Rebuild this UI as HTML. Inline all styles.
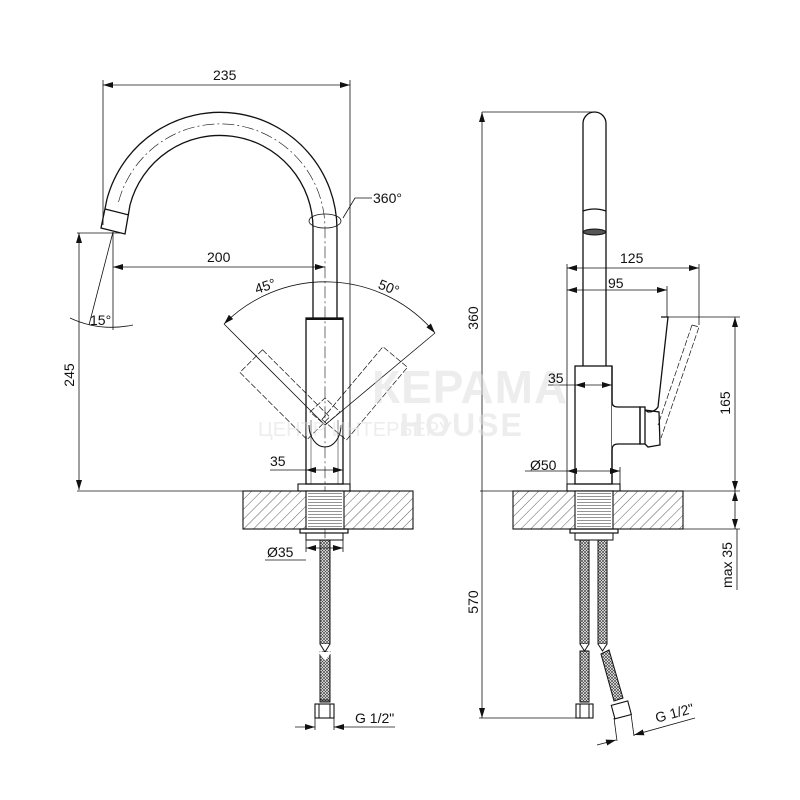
<!DOCTYPE html>
<html><head><meta charset="utf-8"><style>
html,body{margin:0;padding:0;background:#fff}
svg{display:block}
text{font-family:"Liberation Sans",sans-serif;font-size:14px;fill:#111}
</style></head><body>
<svg width="800" height="800" viewBox="0 0 800 800" xmlns="http://www.w3.org/2000/svg">
<defs>
<pattern id="h" patternUnits="userSpaceOnUse" width="7" height="7" patternTransform="rotate(45)">
<line x1="0" y1="0" x2="0" y2="7" stroke="#333" stroke-width="0.8"/></pattern>
<pattern id="th" patternUnits="userSpaceOnUse" width="4" height="3">
<line x1="0" y1="1.5" x2="4" y2="1.5" stroke="#666" stroke-width="0.7"/></pattern>
<pattern id="br" patternUnits="userSpaceOnUse" width="3" height="3">
<rect width="3" height="3" fill="#fff"/><path d="M0 0L3 3M3 0L0 3" stroke="#444" stroke-width="0.7"/></pattern>
<marker id="a" viewBox="0 0 10 6" refX="10" refY="3" markerWidth="10" markerHeight="6" orient="auto-start-reverse" markerUnits="userSpaceOnUse">
<path d="M0 0L10 3L0 6z" fill="#111"/></marker>
</defs>
<g fill="none" stroke="#111" stroke-width="1">
<line x1="103" y1="85" x2="350" y2="85" marker-start="url(#a)" marker-end="url(#a)" stroke-width="0.8"/>
<line x1="103" y1="80" x2="103" y2="225" stroke-width="0.8"/>
<line x1="350" y1="80" x2="350" y2="492" stroke-width="0.8"/>
<path d="M107,199 A117 117 0 0 1 337,229 L337,318" stroke-width="1.3"/>
<path d="M130,205 A93 93 0 0 1 313,229 L313,318" stroke-width="1.3"/>
<path d="M118.5,202 A105 105 0 0 1 325,229 L325,560" stroke-width="0.6" stroke-dasharray="12,3,2,3"/>
<path d="M107,199 L101,228 L125,234 L130,205" stroke-width="1.3"/>
<line x1="105" y1="209" x2="129" y2="215" stroke-width="1.2"/>
<ellipse cx="325" cy="221" rx="16" ry="7" stroke-width="0.8"/>
<path d="M343,218 L355,198 L372,198" stroke-width="0.8"/>
<line x1="77" y1="233" x2="122" y2="233" stroke-width="0.8"/>
<line x1="79" y1="233" x2="79" y2="490" marker-start="url(#a)" marker-end="url(#a)" stroke-width="0.8"/>
<line x1="77" y1="491" x2="243" y2="491" stroke-width="0.8"/>
<line x1="113" y1="232" x2="113" y2="330" stroke-width="0.8"/>
<line x1="113" y1="232" x2="89" y2="325" stroke-width="0.8"/>
<path d="M70,318 Q100,332 133,325" stroke-width="0.8"/>
<line x1="113" y1="267" x2="325" y2="267" marker-start="url(#a)" marker-end="url(#a)" stroke-width="0.8"/>
<rect x="306" y="318" width="37" height="166" stroke-width="1.3"/>
<line x1="306" y1="319" x2="343" y2="319" stroke-width="2"/>
<line x1="311" y1="420" x2="311" y2="484" stroke-width="0.5"/>
<line x1="338" y1="420" x2="338" y2="484" stroke-width="0.5"/>
<path d="M309,425 A16 22 0 0 0 341,425" stroke-width="1"/>
<path d="M224,324 A143 143 0 0 1 435,333" stroke-width="0.8" marker-start="url(#a)" marker-end="url(#a)"/>
<line x1="224" y1="324" x2="325" y2="425" stroke-width="0.8"/>
<line x1="435" y1="333" x2="325" y2="425" stroke-width="0.8"/>
<g stroke-dasharray="6,2" stroke-width="0.7">
<rect x="-62" y="-9" width="95" height="32" transform="translate(300,400) rotate(45)"/>
<rect x="-33" y="-9" width="95" height="32" transform="translate(350,400) rotate(-50)"/>
<path d="M310,412 L325,398 L340,412 L325,425 Z"/>
</g>
<line x1="306" y1="470" x2="343" y2="470" marker-start="url(#a)" marker-end="url(#a)" stroke-width="0.8"/>
<line x1="270" y1="470" x2="306" y2="470" stroke-width="0.8"/>
<rect x="298" y="484" width="52" height="7" stroke-width="1.1"/>
<rect x="243" y="491" width="170" height="38" fill="url(#h)" stroke-width="1.1"/>
<rect x="306" y="491" width="38" height="38" fill="#fff" stroke-width="1.1"/>
<rect x="308" y="492" width="34" height="36" fill="url(#th)" stroke="none"/>
<rect x="300" y="529" width="48" height="4" stroke-width="1.2"/>
<rect x="306" y="533" width="37" height="7" stroke-width="1"/>
<rect x="320" y="540" width="10" height="104" fill="url(#br)" stroke-width="1"/>
<rect x="320" y="652" width="10" height="50" fill="url(#br)" stroke-width="1"/>
<path d="M320,644 L325,652 L330,644" fill="#fff"/>
<path d="M320,652 L325,658 L330,652" fill="#fff" stroke="#fff" stroke-width="3"/>
<rect x="315" y="704" width="19" height="14" stroke-width="1.1"/>
<line x1="319" y1="704" x2="319" y2="718"/><line x1="330" y1="704" x2="330" y2="718"/>
<line x1="320" y1="700" x2="330" y2="700"/>
<line x1="306" y1="540" x2="306" y2="552" stroke-width="0.8"/>
<line x1="343" y1="540" x2="343" y2="552" stroke-width="0.8"/>
<line x1="306" y1="548" x2="343" y2="548" marker-start="url(#a)" marker-end="url(#a)" stroke-width="0.8"/>
<line x1="265" y1="560" x2="306" y2="560" stroke-width="0.8"/>
<line x1="295" y1="727" x2="315" y2="727" marker-end="url(#a)" stroke-width="0.8"/>
<line x1="334" y1="727" x2="395" y2="727" marker-start="url(#a)" stroke-width="0.8"/>
<line x1="315" y1="718" x2="315" y2="730" stroke-width="0.8"/><line x1="334" y1="718" x2="334" y2="730" stroke-width="0.8"/>

<line x1="482" y1="112" x2="594" y2="112" stroke-width="0.8"/>
<line x1="482" y1="112" x2="482" y2="718" marker-start="url(#a)" marker-end="url(#a)" stroke-width="0.8"/>
<line x1="479" y1="718" x2="576" y2="718" stroke-width="0.8"/>
<line x1="480" y1="491" x2="513" y2="491" stroke-width="0.8"/>
<line x1="683" y1="491" x2="740" y2="491" stroke-width="0.8"/>
<line x1="683" y1="529" x2="740" y2="529" stroke-width="0.8"/>
<path d="M583,366 L583,123.5 A11.5 11.5 0 0 1 606,123.5 L606,366" stroke-width="1.3"/>
<path d="M583,211 Q594.5,207 606,211" stroke-width="1.2"/>
<ellipse cx="594.5" cy="232" rx="11" ry="3" fill="#555" stroke-width="1"/>
<rect x="575" y="366" width="37" height="118" stroke-width="1.3"/>
<line x1="567" y1="264" x2="567" y2="484" stroke-width="0.8"/>
<path d="M612,366 L612,402 Q612,407 618,407 L640,407 L640,444 L618,444 Q612,444 612,450 L612,484" fill="#fff" stroke-width="1.3"/>
<rect x="640" y="407" width="5" height="37" stroke-width="1.3"/>
<path d="M661,317 L668,317 L658,407 Q655,412 648,412 L645,410" stroke-width="1.3"/>
<path d="M645,410 L659,412 L660,445 L648,447 L645,444" stroke-width="1.3"/>
<path d="M692,325 L699,327 L661,438" stroke-width="0.7" stroke-dasharray="6,2"/>
<path d="M692,325 L658,425" stroke-width="0.7" stroke-dasharray="6,2"/>
<line x1="567" y1="268" x2="699" y2="268" marker-start="url(#a)" marker-end="url(#a)" stroke-width="0.8"/>
<line x1="699" y1="264" x2="699" y2="325" stroke-width="0.8"/>
<line x1="567" y1="290" x2="667" y2="290" marker-start="url(#a)" marker-end="url(#a)" stroke-width="0.8"/>
<line x1="667" y1="286" x2="667" y2="317" stroke-width="0.8"/>
<line x1="668" y1="317" x2="740" y2="317" stroke-width="0.8"/>
<line x1="735" y1="317" x2="735" y2="491" marker-start="url(#a)" marker-end="url(#a)" stroke-width="0.8"/>
<line x1="735" y1="491" x2="735" y2="529" marker-start="url(#a)" marker-end="url(#a)" stroke-width="0.8"/>
<line x1="737" y1="529" x2="737" y2="590" stroke-width="0.8"/>
<line x1="548" y1="385" x2="575" y2="385" stroke-width="0.8"/>
<line x1="575" y1="385" x2="612" y2="385" marker-start="url(#a)" marker-end="url(#a)" stroke-width="0.8"/>
<line x1="525" y1="471" x2="567" y2="471" stroke-width="0.8"/>
<line x1="567" y1="471" x2="620" y2="471" marker-start="url(#a)" marker-end="url(#a)" stroke-width="0.8"/>
<line x1="620" y1="467" x2="620" y2="490" stroke-width="0.8"/>
<rect x="567" y="484" width="53" height="7" stroke-width="1.1"/>
<rect x="513" y="491" width="170" height="38" fill="url(#h)" stroke-width="1.1"/>
<rect x="575" y="491" width="38" height="38" fill="#fff" stroke-width="1.1"/>
<rect x="577" y="492" width="34" height="36" fill="url(#th)" stroke="none"/>
<rect x="570" y="529" width="48" height="4" stroke-width="1.2"/>
<rect x="575" y="533" width="38" height="7" stroke-width="1"/>
<rect x="580" y="540" width="9" height="104" fill="url(#br)"/>
<rect x="598" y="540" width="9" height="104" fill="url(#br)"/>
<rect x="580" y="651" width="9" height="51" fill="url(#br)"/>
<path d="M580,644 L584.5,651 L589,644" fill="#fff"/>
<path d="M598,644 L602.5,651 L607,644" fill="#fff"/>
<path d="M601,654 L609,650 L623,698 L614,701 Z" fill="url(#br)"/>
<rect x="576" y="704" width="17" height="14" stroke-width="1.1"/>
<line x1="580" y1="704" x2="580" y2="718"/><line x1="589" y1="704" x2="589" y2="718"/>
<rect x="-9" y="0" width="17" height="14" transform="translate(620,703) rotate(-15)" stroke-width="1.1"/>
<line x1="614" y1="718" x2="617" y2="741" stroke-width="0.8"/>
<line x1="631" y1="714" x2="634" y2="736" stroke-width="0.8"/>
<line x1="597" y1="745" x2="616" y2="740" marker-end="url(#a)" stroke-width="0.8"/>
<line x1="634" y1="735" x2="695" y2="718" marker-start="url(#a)" stroke-width="0.8"/>
</g>
<g opacity="0.5">
<text x="372" y="403" style="font-size:46px;font-weight:bold;fill:#ddd;letter-spacing:1px">КЕРАМА</text>
<text x="400" y="436" style="font-size:32px;font-weight:bold;fill:#ddd;letter-spacing:2px">HOUSE</text>
<text x="258" y="436" style="font-size:20px;fill:#ddd">ЦЕНТР ИНТЕРЬЕРУ</text>
</g>
<text x="213" y="80">235</text>
<text x="373" y="203">360°</text>
<text x="207" y="262">200</text>
<text x="255" y="292" transform="rotate(-18 262 288)">45°</text>
<text x="378" y="292" transform="rotate(22 388 288)">50°</text>
<text x="90" y="325">15°</text>
<text x="74" y="375" transform="rotate(-90 74 375)" text-anchor="middle">245</text>
<text x="270" y="466">35</text>
<text x="267" y="557">Ø35</text>
<text x="355" y="723">G 1/2"</text>
<text x="478" y="318" transform="rotate(-90 478 318)" text-anchor="middle">360</text>
<text x="478" y="602" transform="rotate(-90 478 602)" text-anchor="middle">570</text>
<text x="620" y="263">125</text>
<text x="608" y="288">95</text>
<text x="548" y="383">35</text>
<text x="530" y="470">Ø50</text>
<text x="730" y="403" transform="rotate(-90 730 403)" text-anchor="middle">165</text>
<text x="732" y="565" transform="rotate(-90 732 565)" text-anchor="middle">max 35</text>
<text x="655" y="719" transform="rotate(-15 670 714)">G 1/2"</text>
</svg>
</body></html>
